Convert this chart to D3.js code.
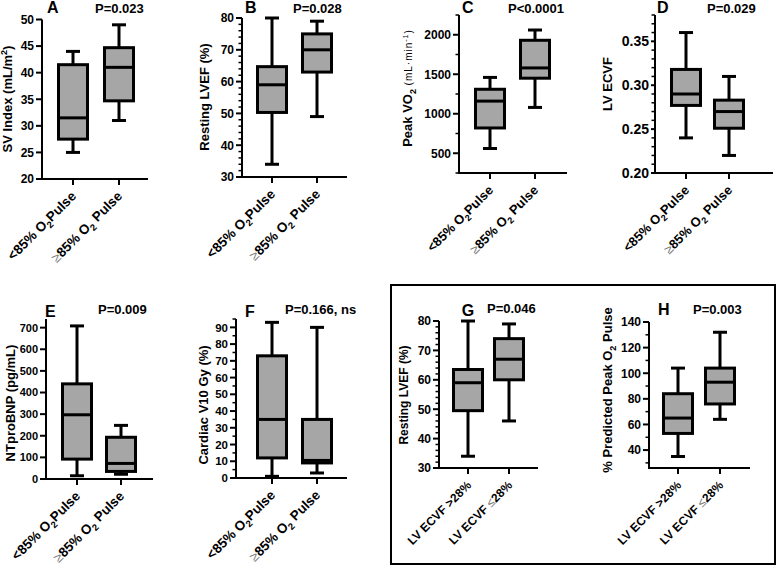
<!DOCTYPE html>
<html><head><meta charset="utf-8">
<script src="https://cdn.jsdelivr.net/npm/d3@7"></script>
<style>
body{margin:0;background:#fff}
svg{display:block;font-family:"Liberation Sans",Arial,sans-serif;font-weight:bold}
</style></head>
<body><svg id="c" width="777" height="566"></svg>
<script>
// ---------- DATA ----------
const o2Groups = ["<85% O₂Pulse", "≥85% O₂ Pulse"];
const ecvfGroups = ["LV ECVF >28%", "LV ECVF ≤28%"];
// each box: [min, Q1, median, Q3, max]
const svIndex   = [[25, 27.5, 31.5, 41.5, 44], [31, 34.7, 41, 44.7, 49]];
const lvefO2    = [[34, 50.3, 59, 64.7, 80], [49, 63, 70, 75, 79]];
const peakVO2   = [[560, 820, 1160, 1310, 1460], [1080, 1450, 1580, 1930, 2060]];
const lvEcvf    = [[0.24, 0.277, 0.29, 0.318, 0.36], [0.22, 0.251, 0.27, 0.283, 0.31]];
const ntproBNP  = [[15, 92, 297, 440, 708], [22, 35, 72, 193, 248]];
const v10Gy     = [[1, 12, 35, 73, 93], [3, 9, 10.5, 35, 90]];
const lvefEcvf  = [[34, 49.5, 59, 63.5, 80], [46, 60, 67, 74, 79]];
const predO2    = [[35, 53, 65, 84, 104], [64, 76, 93, 104, 132]];
const pValues   = ["P=0.023", "P=0.028", "P<0.0001", "P=0.029", "P=0.009", "P=0.166, ns", "P=0.046", "P=0.003"];
const ticksA = [20, 25, 30, 35, 40, 45, 50];
const ticksB = [30, 40, 50, 60, 70, 80];
const ticksC = [500, 1000, 1500, 2000];
const ticksD = [0.20, 0.25, 0.30, 0.35];
const ticksE = [0, 100, 200, 300, 400, 500, 600, 700];
const ticksF = [0, 10, 20, 30, 40, 50, 60, 70, 80, 90];
const ticksG = [30, 40, 50, 60, 70, 80];
const ticksH = [40, 60, 80, 100, 120, 140];

// ---------- LAYOUT ----------
const panels = [
 {id:"A", groups:o2Groups, vals:svIndex, p:pValues[0], ticks:ticksA, minor:null, fmt:d3.format("d"),
  dom:[20,50], ax:42, top:19.5, bot:179, xEnd:148, cats:[73,119], title:"SV Index (mL/m²)", tx:12, ty:99,
  lx:47, ly:13, px:95, py:13, lab:13.5, tk:12},
 {id:"B", groups:o2Groups, vals:lvefO2, p:pValues[1], ticks:ticksB, minor:2, fmt:d3.format("d"),
  dom:[30,80], ax:242, top:18, bot:177, xEnd:347, cats:[272,317], title:"Resting LVEF (%)", tx:209, ty:97,
  lx:245, ly:13, px:293, py:13, lab:13.5, tk:12},
 {id:"C", groups:o2Groups, vals:peakVO2, p:pValues[2], ticks:ticksC, minor:250, fmt:d3.format("d"),
  dom:[250,2250], ax:459, top:15, bot:173, xEnd:567, cats:[490,535], title:"Peak VO₂ ", unit:"(mL·min⁻¹)", tx:412, ty:88,
  lx:462, ly:13, px:508, py:13, lab:13, tk:12},
 {id:"D", groups:o2Groups, vals:lvEcvf, p:pValues[3], ticks:ticksD, minor:0.01, fmt:d3.format(".2f"),
  dom:[0.20,0.38], ax:655, top:15, bot:173, xEnd:773, cats:[686,729], title:"LV ECVF", tx:612, ty:84,
  lx:657, ly:13, px:707, py:13, lab:13, tk:14, tl:4},
 {id:"E", groups:o2Groups, vals:ntproBNP, p:pValues[4], ticks:ticksE, minor:null, fmt:d3.format("d"),
  dom:[0,740], ax:46, top:319, bot:479, xEnd:153, cats:[77,121], title:"NTproBNP (pg/mL)", tx:15, ty:403,
  lx:45, ly:317, px:98, py:314, lab:13.5, tk:11},
 {id:"F", groups:o2Groups, vals:v10Gy, p:pValues[5], ticks:ticksF, minor:5, fmt:d3.format("d"),
  dom:[0,95], ax:236, top:319, bot:478, xEnd:347, cats:[272,317], title:"Cardiac V10 Gy (%)", tx:208, ty:405,
  lx:245, ly:317, px:285, py:314, lab:13.5, tk:11.5},
 {id:"G", groups:ecvfGroups, vals:lvefEcvf, p:pValues[6], ticks:ticksG, minor:2, fmt:d3.format("d"),
  dom:[30,80], ax:439, top:321, bot:468, xEnd:538, cats:[468,509], title:"Resting LVEF (%)", tx:408, ty:395,
  lx:468, ly:316, lanchor:"middle", px:487, py:313, lab:12, tsize:12, tk:12},
 {id:"H", groups:ecvfGroups, vals:predO2, p:pValues[7], ticks:ticksH, minor:10, fmt:d3.format("d"),
  dom:[26,140], ax:649, top:322, bot:468, xEnd:750, cats:[678,720], title:"% Predicted Peak O₂ Pulse", tx:612, ty:390,
  lx:658, ly:315, px:693, py:314, lab:12, tk:12},
];

const svg = d3.select("#c");

// rich text: subscripts / superscripts / thin comparison glyphs
function rich(t, str, size) {
  const parts = str.split(/(₂|²|⁻¹|≥|≤)/);
  let back = 0;
  parts.forEach(p => {
    if (!p) return;
    if (p === "₂") {
      t.append("tspan").attr("dy", size*0.28).attr("font-size", size*0.7).text("2");
      back = -size*0.28;
    } else if (p === "²") {
      t.append("tspan").attr("dy", -size*0.4).attr("font-size", size*0.7).text("2");
      back = size*0.4;
    } else if (p === "⁻¹") {
      t.append("tspan").attr("dy", -size*0.4).attr("font-size", size*0.7).text("-1");
      back = size*0.4;
    } else if (p === "≥" || p === "≤") {
      t.append("tspan").attr("dy", back).attr("font-weight","normal").attr("fill","#777").text(p);
      back = 0;
    } else {
      t.append("tspan").attr("dy", back).text(p);
      back = 0;
    }
  });
}

panels.forEach(P => {
  const g = svg.append("g");
  const y = d3.scaleLinear().domain(P.dom).range([P.bot, P.top]);
  const x = d3.scalePoint().domain(P.groups).range(P.cats);
  const bw = 29, cw = 14;
  const tl = P.tl || 6;

  // minor ticks
  if (P.minor) {
    const mn = d3.range(Math.ceil(P.dom[0]/P.minor - 1e-6), Math.floor(P.dom[1]/P.minor + 1e-6) + 1)
      .map(k => k*P.minor)
      .filter(v => !P.ticks.some(t => Math.abs(t - v) < P.minor*0.01));
    g.selectAll(".mn").data(mn).join("line")
      .attr("x1", P.ax - 3.5).attr("x2", P.ax).attr("y1", d => y(d)).attr("y2", d => y(d))
      .attr("stroke", "#000").attr("stroke-width", 1.5);
  }
  // major ticks
  g.selectAll(".mj").data(P.ticks).join("line")
    .attr("x1", P.ax - tl).attr("x2", P.ax).attr("y1", d => y(d)).attr("y2", d => y(d))
    .attr("stroke", "#000").attr("stroke-width", 2);
  g.selectAll(".tl").data(P.ticks).join("text")
    .attr("x", P.ax - tl - 2).attr("y", d => y(d)).attr("dy", "0.36em")
    .attr("text-anchor", "end").attr("font-size", P.tk).text(d => P.fmt(d));

  // axes lines
  g.append("line").attr("x1", P.ax).attr("x2", P.ax).attr("y1", P.top).attr("y2", P.bot + 1)
    .attr("stroke", "#000").attr("stroke-width", 2);
  g.append("line").attr("x1", P.ax - 1).attr("x2", P.xEnd).attr("y1", P.bot).attr("y2", P.bot)
    .attr("stroke", "#000").attr("stroke-width", 2);
  // x ticks
  g.selectAll(".xt").data(P.groups).join("line")
    .attr("x1", d => x(d)).attr("x2", d => x(d)).attr("y1", P.bot).attr("y2", P.bot + 6)
    .attr("stroke", "#000").attr("stroke-width", 2);
  // x labels
  g.selectAll(".xl").data(P.groups).join("text")
    .attr("transform", d => `translate(${x(d) + 4},${P.bot + 18}) rotate(-45)`)
    .attr("text-anchor", "end").attr("font-size", P.lab)
    .each(function(d){ rich(d3.select(this), d, P.lab); });

  // boxes
  const bx = g.selectAll(".bx").data(P.groups.map((k, i) => ({k, v: P.vals[i]}))).join("g");
  bx.append("line").attr("x1", d => x(d.k)).attr("x2", d => x(d.k))
    .attr("y1", d => y(d.v[0])).attr("y2", d => y(d.v[4]))
    .attr("stroke", "#000").attr("stroke-width", 3);
  bx.append("line").attr("x1", d => x(d.k) - cw/2).attr("x2", d => x(d.k) + cw/2)
    .attr("y1", d => y(d.v[0])).attr("y2", d => y(d.v[0]))
    .attr("stroke", "#000").attr("stroke-width", 3);
  bx.append("line").attr("x1", d => x(d.k) - cw/2).attr("x2", d => x(d.k) + cw/2)
    .attr("y1", d => y(d.v[4])).attr("y2", d => y(d.v[4]))
    .attr("stroke", "#000").attr("stroke-width", 3);
  bx.append("rect").attr("x", d => x(d.k) - bw/2).attr("width", bw)
    .attr("y", d => y(d.v[3])).attr("height", d => y(d.v[1]) - y(d.v[3]))
    .attr("fill", "#a6a6a6").attr("stroke", "#000").attr("stroke-width", 3);
  bx.append("line").attr("x1", d => x(d.k) - bw/2).attr("x2", d => x(d.k) + bw/2)
    .attr("y1", d => y(d.v[2])).attr("y2", d => y(d.v[2]))
    .attr("stroke", "#000").attr("stroke-width", 3);

  // y title
  const ts = P.tsize || 13;
  const tt = g.append("text")
    .attr("transform", `translate(${P.tx},${P.ty}) rotate(-90)`)
    .attr("text-anchor", "middle").attr("dy", "0.36em").attr("font-size", ts);
  rich(tt, P.title, ts);
  if (P.unit) {
    const us = 10;
    const u = tt.append("tspan").attr("font-size", us).attr("font-weight", "normal").attr("letter-spacing", 1);
    rich(u, P.unit, us);
  }

  // panel letter and p value
  g.append("text").attr("x", P.lx).attr("y", P.ly).attr("font-size", 16)
    .attr("text-anchor", P.lanchor || "start").text(P.id);
  g.append("text").attr("x", P.px).attr("y", P.py).attr("font-size", 13).text(P.p);
});

// frame around G and H
svg.append("rect").attr("x", 391).attr("y", 285).attr("width", 384).attr("height", 279)
  .attr("fill", "none").attr("stroke", "#000").attr("stroke-width", 2);
</script></body></html>
